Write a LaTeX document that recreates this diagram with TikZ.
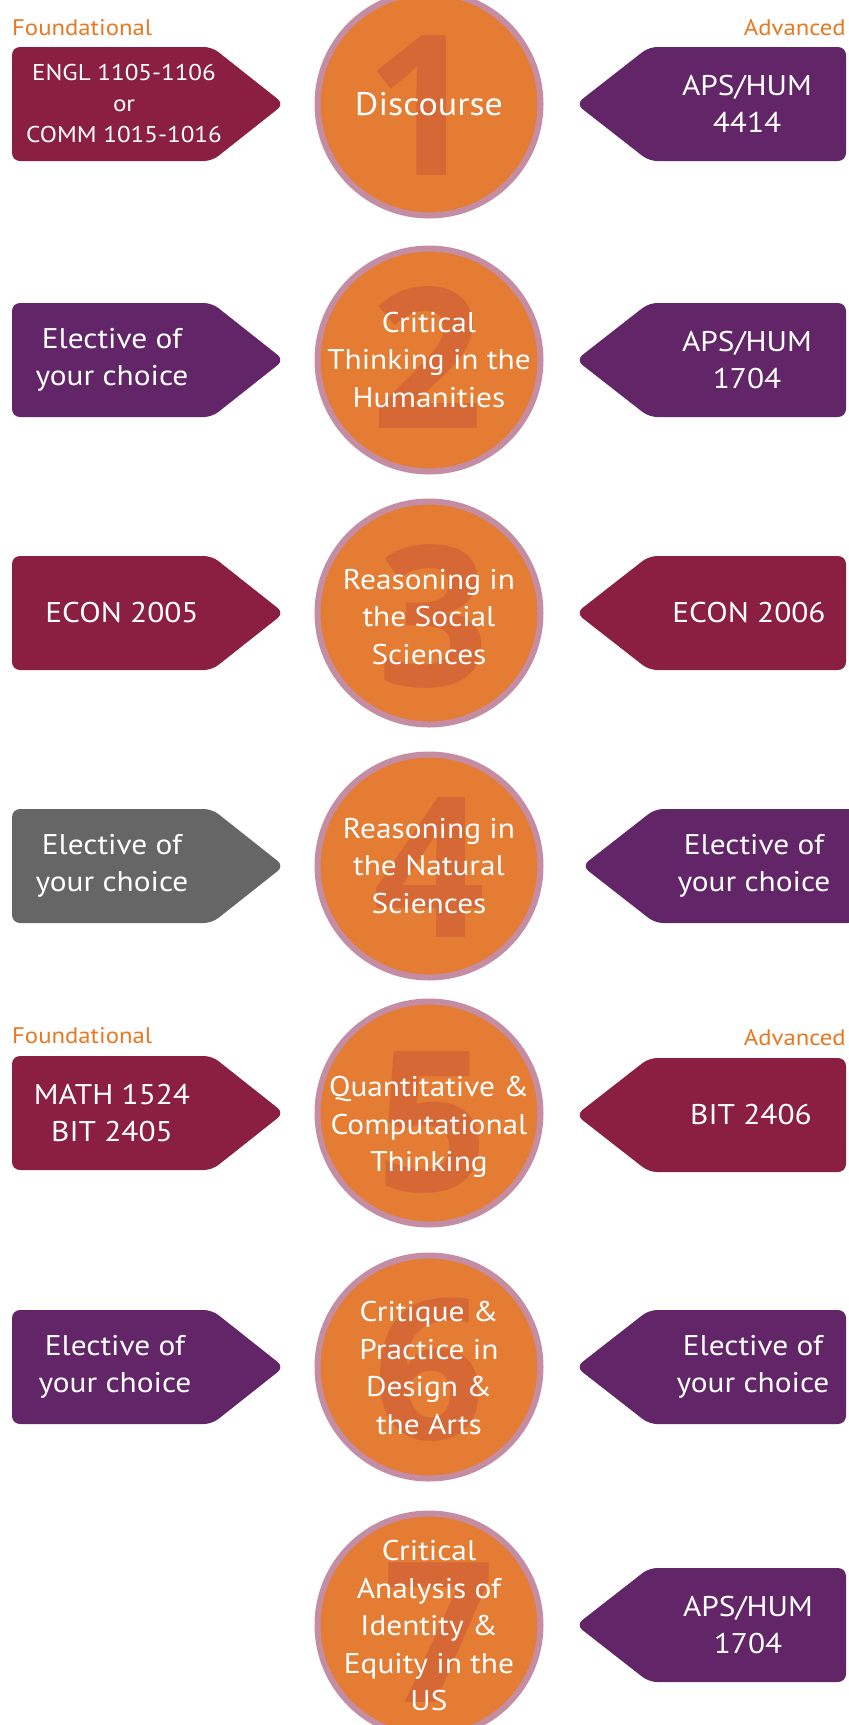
\documentclass[tikz,border=0pt]{standalone}
\usepackage{fontspec}
\setmainfont{PT Sans}[FakeStretch=1.1]
\newfontfamily\digitfont{Open Sans}
\definecolor{cmaroon}{HTML}{8A1F41}
\definecolor{cpurple}{HTML}{622567}
\definecolor{cgray}{HTML}{666666}
\definecolor{corange}{HTML}{E57C33}
\definecolor{clabel}{HTML}{E87722}
\definecolor{cborder}{HTML}{C48DA3}
\definecolor{cdigit}{HTML}{D66836}
\newcommand\leftbox[5]{% name, y, color, text x, text
  \fill[#3, rounded corners=8pt] (12,#2-57) -- (212,#2-57) -- (284,#2) -- (212,#2+57) -- (12,#2+57) -- cycle;
  \node[lbl] (#1) at (#4,#2) {#5};}
\newcommand\rightbox[5]{% name, y, color, text x, text
  \fill[#3, rounded corners=8pt] (846,#2-57) -- (649,#2-57) -- (576,#2) -- (649,#2+57) -- (846,#2+57) -- cycle;
  \node[lbl] (#1) at (#4,#2) {#5};}
\newcommand\topic[8]{% name, y, digit, digit dx, digit dy, text dy, style, text
  \node[circ] (#1) at (429,#2) {};
  \node[digit] (#1d) at ([shift={(#4,#5)}]#1.center) {#3};
  \node[lbl,#7] (#1t) at ([shift={(0,#6)}]#1.center) {#8};}
\begin{document}
\begin{tikzpicture}[x=1pt,y=-1pt,
  lbl/.style={text=white, font=\fontsize{28.5}{37.5}\selectfont, align=center, inner sep=0pt},
  small/.style={font=\fontsize{22.8}{31}\selectfont},
  big/.style={font=\fontsize{32.7}{40}\selectfont},
  circ/.style={circle, fill=corange, draw=cborder, line width=6pt, minimum size=223pt, inner sep=0pt},
  digit/.style={text=cdigit, font=\digitfont\fontsize{196}{196}\bfseries\selectfont, inner sep=0pt},
  head/.style={text=clabel, font=\fontsize{22.5}{24}\selectfont, inner sep=0pt}]
\useasboundingbox (0,0) rectangle (849,1725);

% row 1
\node[head, anchor=base west] (f1) at (12,35) {Foundational};
\node[head, anchor=base east] (a1) at (846,35) {Advanced};
\fill[cmaroon, rounded corners=8pt] (12,47) -- (212,47) -- (284,104) -- (212,161) -- (12,161) -- cycle;
\node[lbl, small] (l1) at (124,104) {ENGL 1105-1106\\or\\COMM 1015-1016};
\rightbox{r1}{104}{cpurple}{747}{APS/HUM\\4414}
\topic{c1}{104}{1}{-8}{2}{0}{big}{Discourse}

% row 2
\leftbox{l2}{360}{cpurple}{112}{Elective of\\your choice}
\rightbox{r2}{360}{cpurple}{747}{APS/HUM\\1704}
\topic{c2}{360}{2}{-2}{-2}{0}{}{Critical\\Thinking in the\\Humanities}

% row 3
\leftbox{l3}{613}{cmaroon}{122}{ECON 2005}
\rightbox{r3}{613}{cmaroon}{749}{ECON 2006}
\topic{c3}{613}{3}{4}{3}{4}{}{Reasoning in\\the Social\\Sciences}

% row 4
\leftbox{l4}{866}{cgray}{112}{Elective of\\your choice}
\fill[cpurple, rounded corners=8pt] (856,809) -- (655,809) -- (582,866) -- (655,923) -- (856,923) -- cycle;
\node[lbl] (r4) at (754,866) {Elective of\\your choice};
\topic{c4}{866}{4}{0}{2}{0}{}{Reasoning in\\the Natural\\Sciences}

% row 5
\node[head, anchor=base west] (f5) at (12,1043) {Foundational};
\node[head, anchor=base east] (a5) at (846,1045) {Advanced};
\leftbox{l5}{1113}{cmaroon}{112}{MATH 1524\\BIT 2405}
\rightbox{r5}{1115}{cmaroon}{751}{BIT 2406}
\topic{c5}{1113}{5}{3}{9}{14}{}{Quantitative \&\\Computational\\Thinking}

% row 6
\leftbox{l6}{1367}{cpurple}{115}{Elective of\\your choice}
\rightbox{r6}{1367}{cpurple}{753}{Elective of\\your choice}
\topic{c6}{1367}{6}{0}{3}{1}{}{Critique \&\\Practice in\\Design \&\\the Arts}

% row 7
\rightbox{r7}{1625}{cpurple}{748}{APS/HUM\\1704}
\topic{c7}{1625}{7}{10}{8}{1}{}{Critical\\Analysis of\\Identity \&\\Equity in the\\US}
\end{tikzpicture}
\end{document}
